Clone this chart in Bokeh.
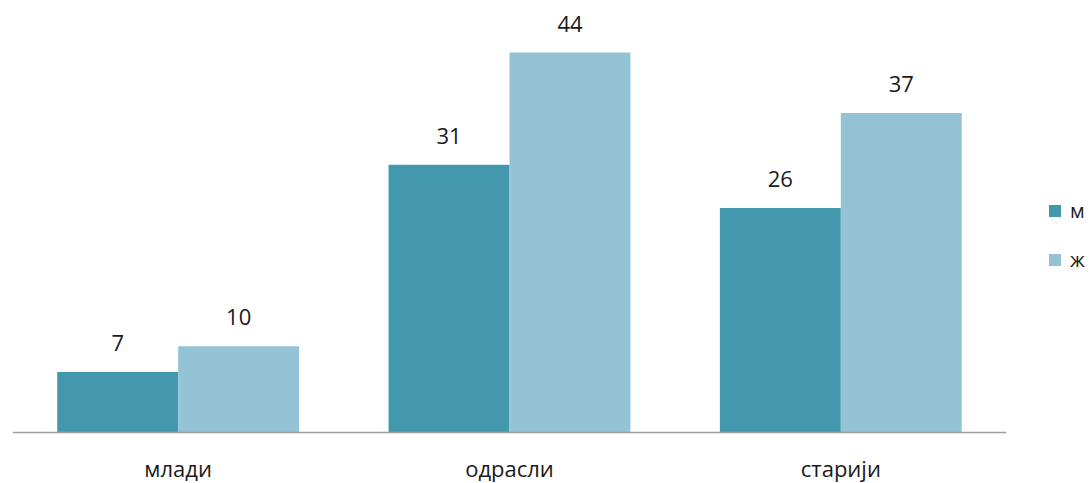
from bokeh.plotting import figure
from bokeh.models import ColumnDataSource, Range1d, Legend, LegendItem, LabelSet
from bokeh.core.properties import value
from bokeh.embed import file_html
from bokeh.resources import INLINE

categories = ["млади", "одрасли", "старији"]
series_names = ["м", "ж"]
values_m = [7, 31, 26]
values_z = [10, 44, 37]

dark = "#4398AE"
light = "#93C3D4"
font = "Open Sans"
text_col = "#1a1a1a"

n = len(categories)
centers = [i + 0.5 for i in range(n)]
bw = 0.365
off = bw / 2

src = ColumnDataSource(dict(cat=categories, xc=centers,
                            xm=[c - off for c in centers], xz=[c + off for c in centers],
                            m=values_m, z=values_z, zero=[0] * n,
                            m_lbl=[str(v) for v in values_m],
                            z_lbl=[str(v) for v in values_z]))

# frame: page x 12..1091, y 8..483 ; 331.33 px per category, 8.636 px per unit
p = figure(x_range=Range1d(0, 3.2566), y_range=Range1d(-5.905, 49.1),
           width=1091, height=483, output_backend="svg", toolbar_location=None,
           min_border_left=12, min_border_right=0, min_border_top=8, min_border_bottom=0)

r1 = p.vbar(x="xm", top="m", width=bw, source=src, fill_color=dark, line_color=None)
r2 = p.vbar(x="xz", top="z", width=bw, source=src, fill_color=light, line_color=None)

# category axis line
p.segment(x0=[0], x1=[n], y0=[0], y1=[0], line_color="#a0a0a0", line_width=1.5)

for col, xcol, lbl in (("m", "xm", "m_lbl"), ("z", "xz", "z_lbl")):
    p.add_layout(LabelSet(x=xcol, y=col, text=lbl, source=src,
                          text_align="center", text_baseline="middle", y_offset=29,
                          text_font=value(font), text_font_size="22px", text_color=text_col))

p.add_layout(LabelSet(x="xc", y="zero", text="cat", source=src, text_align="center",
                      text_baseline="middle", y_offset=-35, text_font=value(font),
                      text_font_size="22px", text_color=text_col))

legend = Legend(items=[LegendItem(label=series_names[0], renderers=[r1]),
                       LegendItem(label=series_names[1], renderers=[r2])],
                location=(1035, 210), orientation="vertical",
                glyph_width=15, glyph_height=15, label_height=20, spacing=22,
                label_standoff=8, padding=0, margin=0,
                border_line_color=None, background_fill_alpha=0,
                label_text_font=font, label_text_font_size="20px", label_text_color=text_col)
p.add_layout(legend, "center")

p.xaxis.visible = False
p.yaxis.visible = False
p.xgrid.grid_line_color = None
p.ygrid.grid_line_color = None
p.outline_line_color = None

open("out.html", "w").write(file_html(p, INLINE))
